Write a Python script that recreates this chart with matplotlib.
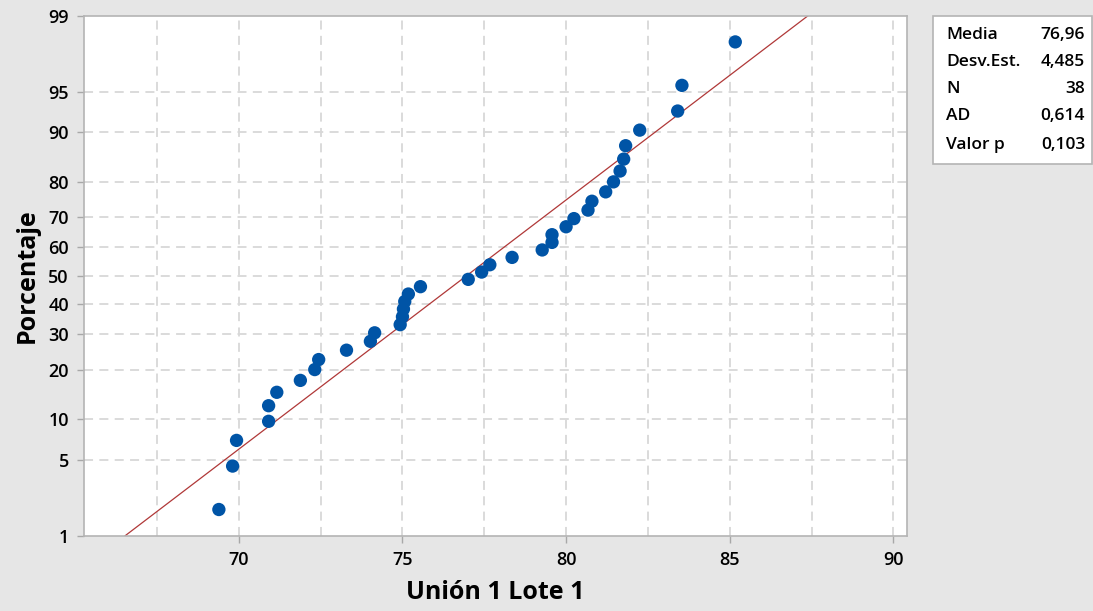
import numpy as np
import matplotlib
matplotlib.use("Agg")
import matplotlib.pyplot as plt
from matplotlib.patches import Rectangle
from statistics import NormalDist

# observed values, sorted
union_lote = [69.39, 69.81, 69.93, 70.91, 70.91, 71.16, 71.88, 72.32, 72.44, 73.29,
              74.02, 74.15, 74.93, 75.00, 75.03, 75.07, 75.18, 75.55, 77.01, 77.42,
              77.67, 78.35, 79.27, 79.57, 79.57, 80.00, 80.24, 80.67, 80.79, 81.21,
              81.45, 81.65, 81.76, 81.82, 82.25, 83.41, 83.54, 85.17]

media = 76.96
desv_est = 4.485
stat_names = ["Media", "Desv.Est.", "N", "AD", "Valor p"]
stat_values = ["76,96", "4,485", "38", "0,614", "0,103"]

y_ticks = [1, 5, 10, 20, 30, 40, 50, 60, 70, 80, 90, 95, 99]
x_ticks = [70, 75, 80, 85, 90]
x_grid = [67.5, 70, 72.5, 75, 77.5, 80, 82.5, 85, 87.5, 90]

plt.rcParams["font.family"] = ["Open Sans", "DejaVu Sans"]

nd = NormalDist()
_ppf = np.vectorize(lambda p: nd.inv_cdf(p), otypes=[float])
_cdf = np.vectorize(lambda z: nd.cdf(z), otypes=[float])


def prob_forward(pct):
    pct = np.clip(np.asarray(pct, dtype=float), 1e-6, 100 - 1e-6)
    return _ppf(pct / 100.0)


def prob_inverse(z):
    return _cdf(np.asarray(z, dtype=float)) * 100.0


# median-rank plotting positions
n = len(union_lote)
ranks = np.arange(1, n + 1)
pct = (ranks - 0.3) / (n + 0.4) * 100

fig = plt.figure(figsize=(10.93, 6.11), dpi=100, facecolor="#e6e6e6")
ax = fig.add_axes([0.0769, 0.1232, 0.7527, 0.8511])
ax.set_facecolor("white")
ax.set_yscale("function", functions=(prob_forward, prob_inverse))

# reference normal line from the fitted parameters
line_pct = np.array([1.0, 99.0])
line_x = media + desv_est * prob_forward(line_pct)
ax.plot(line_x, line_pct, color="#b03838", lw=0.9, zorder=2)

ax.scatter(union_lote, pct, s=92, color="#0054a6", edgecolors="none", zorder=3)

ax.set_xlim(65.27, 90.41)
ax.set_ylim(1, 99)

ax.set_yticks(y_ticks)
ax.set_yticklabels([str(t) for t in y_ticks])
ax.set_xticks(x_ticks)
ax.set_xticks(x_grid, minor=True)
ax.yaxis.set_minor_locator(matplotlib.ticker.NullLocator())

grid_kw = dict(color="#d8d8d8", linestyle=(0, (5, 3.5)), linewidth=1.3)
for gx in x_grid:
    ax.axvline(gx, zorder=1, **grid_kw)
for gy in y_ticks[1:-1]:
    ax.axhline(gy, zorder=1, **grid_kw)

ax.tick_params(axis="both", which="major", direction="out", length=5, width=1,
               color="#a8a8a8", labelsize=13, labelcolor="black", pad=6)
ax.tick_params(axis="x", which="minor", length=0)
for lbl in ax.get_xticklabels() + ax.get_yticklabels():
    lbl.set_fontweight("semibold")
for sp in ax.spines.values():
    sp.set_color("#b4b4b4")
    sp.set_linewidth(1.2)

ax.set_xlabel("Unión 1 Lote 1", fontsize=18, fontweight="bold", labelpad=8)
ax.set_ylabel("Porcentaje", fontsize=18, fontweight="bold", labelpad=6)

# statistics box
box_l, box_b = 933 / 1093, 1 - 164 / 611
box_w, box_h = 1092 / 1093 - box_l, (164 - 16) / 611
fig.patches.append(Rectangle((box_l, box_b), box_w, box_h, transform=fig.transFigure,
                             facecolor="white", edgecolor="#b4b4b4", lw=1.2))
row_y = [35, 62, 89, 116, 145]
for name, val, ry in zip(stat_names, stat_values, row_y):
    fig.text(946 / 1093, 1 - ry / 611, name, fontsize=12.5, fontweight="semibold",
             va="center", ha="left")
    fig.text(1085 / 1093, 1 - ry / 611, val, fontsize=12.5, fontweight="semibold",
             va="center", ha="right")

fig.savefig("out.png", dpi=100, facecolor=fig.get_facecolor())
